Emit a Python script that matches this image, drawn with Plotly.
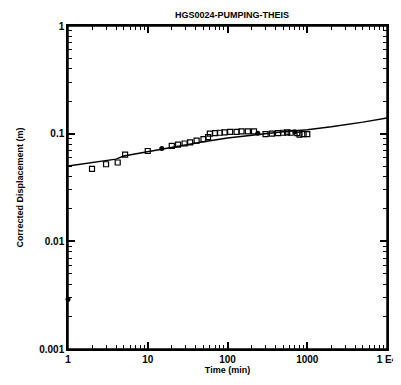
import plotly.graph_objects as go

# Theis type curve
curve_t = [1, 2, 3, 4, 5, 10, 20, 50, 100, 200, 500, 1000, 2000, 5000, 10000]
curve_v = [0.050, 0.054, 0.056, 0.058, 0.062, 0.068, 0.075, 0.084, 0.091, 0.097, 0.104, 0.109, 0.116, 0.128, 0.140]

# observed displacement (open squares)
obs_t = [2.0, 3.0, 4.2, 5.2, 10, 20, 24, 29, 34, 41, 50, 57, 60, 70, 80, 92, 108, 130, 150, 180, 215,
         300, 360, 430, 500, 560, 620, 750, 800, 900, 1000]
obs_v = [0.047, 0.052, 0.054, 0.064, 0.069, 0.077, 0.079, 0.081, 0.083, 0.086, 0.089, 0.093, 0.100,
         0.101, 0.102, 0.103, 0.104, 0.104, 0.105, 0.105, 0.105,
         0.099, 0.100, 0.101, 0.102, 0.103, 0.102, 0.101, 0.098, 0.099, 0.099]

# filled points
fill_t = [1, 15, 240, 700]
fill_v = [0.0029, 0.073, 0.101, 0.104]

x_tickvals = [1, 10, 100, 1000, 10000]
x_ticktext = ["1", "10", "100", "1000", "1 E4"]
y_tickvals = [0.001, 0.01, 0.1, 1]
y_ticktext = ["0.001", "0.01", "0.1", "1"]

x_minor = [m * d for d in x_tickvals[:-1] for m in range(2, 10)]
y_minor = [m * d for d in y_tickvals[:-1] for m in range(2, 10)]

font = dict(family="Liberation Sans, Arial, sans-serif", size=9, color="black")
tfont = dict(family="Liberation Sans, Arial, sans-serif", size=10, color="black")

fig = go.Figure()
fig.add_trace(go.Scatter(x=curve_t, y=curve_v, mode="lines",
                         line=dict(color="black", width=1.5), showlegend=False))
fig.add_trace(go.Scatter(x=obs_t, y=obs_v, mode="markers",
                         marker=dict(symbol="square-open", size=5, color="black",
                                     line=dict(width=1.2, color="black")), showlegend=False))
fig.add_trace(go.Scatter(x=fill_t, y=fill_v, mode="markers", cliponaxis=False,
                         marker=dict(symbol="circle", size=5, color="black"), showlegend=False))
# invisible trace that anchors the minor-tick overlay axes
fig.add_trace(go.Scatter(x=curve_t, y=curve_v, mode="lines", xaxis="x2", yaxis="y2",
                         line=dict(color="rgba(0,0,0,0)"), hoverinfo="skip", showlegend=False))

major = dict(type="log", showgrid=False, zeroline=False, showline=True, linecolor="black",
             linewidth=1.5, mirror="ticks", ticks="inside", ticklen=7, tickwidth=1.5,
             tickcolor="black", tickfont=tfont, tickmode="array", ticklabeloverflow="allow",
             automargin=False)
minor_ax = dict(type="log", showgrid=False, zeroline=False, showline=False, mirror="ticks",
                ticks="inside", ticklen=4, tickwidth=1.3, tickcolor="black",
                showticklabels=False, tickmode="array", automargin=False)

fig.update_layout(
    width=393, height=377,
    margin=dict(l=60, r=14, t=18, b=36, autoexpand=False),
    paper_bgcolor="white", plot_bgcolor="white",
    title=dict(text="<b>HGS0024-PUMPING-THEIS</b>", x=0.57, xanchor="center", y=0.981,
               yanchor="middle", font=font),
    xaxis=dict(**major, range=[0, 4], tickvals=x_tickvals,
               ticktext=["<b>%s</b>" % t for t in x_ticktext],
               title=dict(text="<b>Time (min)</b>", font=font, standoff=3)),
    yaxis=dict(**major, range=[-3, 0], tickvals=y_tickvals,
               ticktext=["<b>%s</b>" % t for t in y_ticktext],
               title=dict(text="<b>Corrected Displacement (m)</b>", font=font, standoff=14)),
    xaxis2=dict(**minor_ax, range=[0, 4], tickvals=x_minor, overlaying="x", anchor="y2", side="bottom"),
    yaxis2=dict(**minor_ax, range=[-3, 0], tickvals=y_minor, overlaying="y", anchor="x2", side="left"),
    shapes=[dict(type="rect", xref="paper", yref="paper", x0=0, y0=0, x1=1, y1=1,
                 line=dict(color="black", width=1.5), layer="above")],
)

fig.write_html("out.html")
